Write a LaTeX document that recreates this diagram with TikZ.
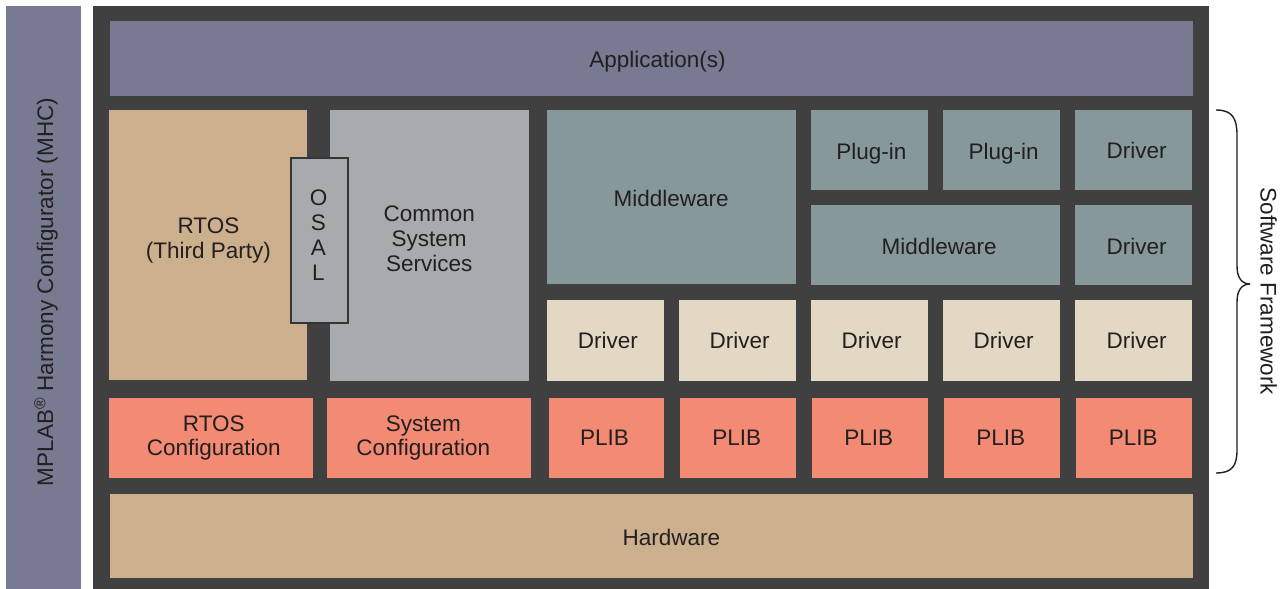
\documentclass[tikz,border=0pt]{standalone}
\usepackage{fontspec}
\setmainfont{Liberation Sans}
\definecolor{frame}{HTML}{404040}
\definecolor{appc}{HTML}{777A91}
\definecolor{tanc}{HTML}{CCB08E}
\definecolor{cssc}{HTML}{A8ABAE}
\definecolor{midc}{HTML}{87989B}
\definecolor{drvc}{HTML}{E3D8C3}
\definecolor{plibc}{HTML}{F38A74}
\definecolor{txtc}{HTML}{231F20}
\newcommand\mybox[6]{\node[box,fill=#6,minimum width={(#4-#2)*1pt},minimum height={(#5-#3)*1pt}] (#1) at ({(#2+#4)/2},{(#3+#5)/2}) {};}
\newcommand\mytxt[5][]{\node[lbl,#1] (#2) at (#3,#4) {#5};}
\begin{document}
\begin{tikzpicture}[x=1pt,y=-1pt,
  box/.style={inner sep=0pt,outer sep=0pt,draw=none},
  lbl/.style={inner sep=0pt,outer sep=0pt,text=txtc,anchor=base,align=center,
    font=\fontsize{22.5}{25}\selectfont},
  tight/.style={font=\fontsize{22.5}{23.5}\selectfont}]
\useasboundingbox (0,0) rectangle (1280,589);
\fill[white] (0,0) rectangle (1280,589);
% left bar
\mybox{mhcbar}{6}{6}{81}{589}{appc}
\mytxt[rotate=90]{mhc}{53}{292}{MPLAB\textsuperscript{\textregistered} Harmony Configurator (MHC)}
% frame
\mybox{frm}{93}{6}{1209}{589}{frame}
% application
\mybox{app}{110}{21}{1193}{96}{appc}
\mytxt{appt}{657.5}{67.7}{Application(s)}
% row 2
\mybox{rtos}{109}{110}{307}{380}{tanc}
\mytxt{rtost}{208.5}{258.3}{RTOS\\(Third Party)}
\mybox{css}{330}{110}{529}{381}{cssc}
\mytxt{csst}{429.2}{271.7}{Common\\System\\Services}
\node[box,fill=cssc,draw=frame!85!black,line width=2pt,minimum width=57pt,minimum height=165pt] (osal) at (319,240) {};
\mytxt{osalt}{318.5}{280.5}{O\\S\\A\\L}
\mybox{mw1}{547}{110}{796}{284}{midc}
\mytxt{mw1t}{671.2}{206}{Middleware}
\mybox{plug1}{811}{110}{928}{190}{midc}
\mytxt{plug1t}{871.3}{159.3}{Plug-in}
\mybox{plug2}{943}{110}{1060}{190}{midc}
\mytxt{plug2t}{1003.7}{159.3}{Plug-in}
\mybox{drvA}{1075}{110}{1192}{190}{midc}
\mytxt{drvAt}{1136.7}{158.3}{Driver}
\mybox{mw2}{811}{205}{1060}{285}{midc}
\mytxt{mw2t}{939.2}{254}{Middleware}
\mybox{drvB}{1075}{205}{1192}{285}{midc}
\mytxt{drvBt}{1136.7}{254}{Driver}
% driver row
\mybox{d1}{547}{300}{664}{381}{drvc}
\mybox{d2}{679}{300}{796}{381}{drvc}
\mybox{d3}{811}{300}{928}{381}{drvc}
\mybox{d4}{943}{300}{1060}{381}{drvc}
\mybox{d5}{1075}{300}{1192}{381}{drvc}
\mytxt{d1t}{607.8}{348.3}{Driver}
\mytxt{d2t}{739.7}{348.3}{Driver}
\mytxt{d3t}{871.7}{348.3}{Driver}
\mytxt{d4t}{1003.7}{348.3}{Driver}
\mytxt{d5t}{1136.7}{348.3}{Driver}
% plib row
\mybox{rcfg}{109}{398}{313}{478}{plibc}
\mytxt[tight]{rcfgt}{213.8}{455.3}{RTOS\\Configuration}
\mybox{scfg}{327}{398}{531}{478}{plibc}
\mytxt[tight]{scfgt}{423.3}{455.3}{System\\Configuration}
\mybox{p1}{549}{398}{664}{478}{plibc}
\mybox{p2}{680}{398}{796}{478}{plibc}
\mybox{p3}{812}{398}{928}{478}{plibc}
\mybox{p4}{944}{398}{1060}{478}{plibc}
\mybox{p5}{1076}{398}{1192}{478}{plibc}
\mytxt{p1t}{604.5}{445.7}{PLIB}
\mytxt{p2t}{736.7}{445.7}{PLIB}
\mytxt{p3t}{868.7}{445.7}{PLIB}
\mytxt{p4t}{1000.7}{445.7}{PLIB}
\mytxt{p5t}{1133.2}{445.7}{PLIB}
% hardware
\mybox{hw}{110}{494}{1193}{578}{tanc}
\mytxt{hwt}{671.3}{545.7}{Hardware}
% brace
\coordinate (bt) at (1216,110);
\coordinate (bb) at (1216,473);
\draw[line width=1.4pt,txtc] (bt) .. controls (1232,110) and (1237,118) .. (1237,135) -- (1237,266)
  .. controls (1237,278) and (1242,284) .. (1250,284)
  .. controls (1242,284) and (1237,290) .. (1237,302) -- (1237,450)
  .. controls (1237,466) and (1232,473) .. (bb);
\mytxt[rotate=-90]{sw}{1260.5}{291.5}{Software Framework}
\end{tikzpicture}
\end{document}
